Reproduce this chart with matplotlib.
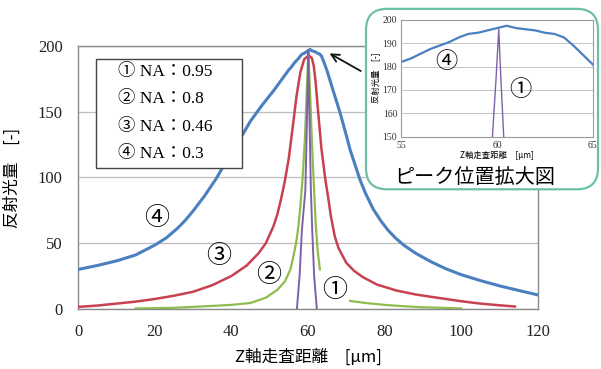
import matplotlib
matplotlib.use("Agg")
import matplotlib.pyplot as plt
from matplotlib.patches import Rectangle, FancyBboxPatch

# ---------------- data ----------------
na_labels = ["① NA：0.95", "② NA：0.8", "③ NA：0.46", "④ NA：0.3"]

# ① NA 0.95 (purple)
x1 = [57.1, 57.8, 58.4, 59.3, 59.55, 59.76, 59.95, 60.09, 60.2, 60.35, 60.55, 60.75, 61.1, 61.6, 62.3]
y1 = [0, 25, 60, 90, 120, 150, 175, 196, 175, 150, 120, 90, 60, 25, 0]

# ② NA 0.8 (green) - main branch and separate right tail
x2 = [15, 25, 32, 40, 45, 49, 52, 54, 55.4, 56.2, 57, 57.5, 58, 58.6, 59.2, 59.6, 60.1,
      60.6, 61.0, 61.6, 62.0, 62.5, 63.1]
y2 = [0.3, 0.8, 1.8, 3, 4.5, 8.5, 14.5, 21, 30, 40, 52, 63, 78, 100, 130, 160, 195,
      160, 128, 90, 65, 45, 30]
x2t = [71, 75, 80, 85, 90, 95, 100]
y2t = [6, 4.5, 3, 2, 1.2, 0.8, 0.3]

# ③ NA 0.46 (red)
x3 = [0, 5, 10, 15, 20, 25, 30, 35, 40, 44, 47, 49, 51, 52, 53, 54, 55, 56, 57,
      58, 59, 60.2, 61, 61.5, 62, 62.7, 63.5, 64.5, 65.3, 66, 67, 68, 70, 72,
      74.4, 78, 83, 88, 92, 96, 100, 105, 110, 114]
y3 = [1.5, 2.5, 4, 5.5, 7.5, 10, 13, 18, 25, 33, 42, 50, 63, 72, 84, 98, 115,
      138, 162, 180, 190, 193, 191, 185, 172, 148, 122, 99, 84, 70, 55, 46, 35,
      29, 24, 18.5, 14, 11, 9.2, 7.5, 5.8, 4, 2.7, 1.8]

# ④ NA 0.3 (blue)
x4 = [0, 5, 10, 15, 20, 23, 26, 28, 30, 33, 36, 39, 42, 45, 48, 51, 54, 55, 55.5, 56,
      56.5, 57, 57.5, 58, 58.5, 59, 59.5, 60, 60.5, 61, 61.5, 62, 62.5, 63,
      63.5, 64, 64.5, 65, 67, 68.4, 70, 71, 73.6, 75, 77, 79, 81, 83, 85,
      88, 92, 96, 100, 105, 110, 115, 120]
y4 = [30, 33, 36.5, 41, 48.5, 54, 61.5, 67.5, 74.5, 86, 99, 114, 128, 143, 155,
      166, 178, 182, 183.5, 185.5, 187.5, 189, 190.5, 192.5, 194, 194.5, 195.5,
      196.5, 197.5, 196.5, 196, 195.5, 194.5, 194, 192.5, 189, 185, 181, 162,
      149, 132, 121, 98, 88, 76, 67, 59.5, 53.5, 48.5, 42.5, 36, 30.5, 26, 21.5,
      17.5, 14, 10.6]

xticks = [0, 20, 40, 60, 80, 100, 120]
yticks = [0, 50, 100, 150, 200]
inset_xticks = [55, 60, 65]
inset_yticks = [150, 160, 170, 180, 190, 200]

c1, c2, c3, c4 = "#7e62a8", "#8fbc4f", "#c8414f", "#4a80c0"

serif = ["Liberation Serif", "Noto Sans CJK JP"]
cjk = ["Noto Sans CJK JP", "DejaVu Sans"]

fig = plt.figure(figsize=(6.01, 3.69), dpi=100)
ax = fig.add_axes([0.130, 0.163, 0.765, 0.712])

ax.plot(x4, y4, color=c4, lw=2.2, zorder=3)
ax.plot(x3, y3, color=c3, lw=1.8, zorder=3)
ax.plot(x2, y2, color=c2, lw=1.6, zorder=3)
ax.plot(x2t, y2t, color=c2, lw=1.6, zorder=3)
ax.plot(x1, y1, color=c1, lw=1.4, zorder=4)

ax.set_xlim(0, 120)
ax.set_ylim(0, 200)
ax.set_xticks(xticks)
ax.set_yticks(yticks)
ax.tick_params(length=0, labelsize=12, colors="#222222")
ax.tick_params(axis="x", pad=11)
ax.tick_params(axis="y", pad=11)
for lab in ax.get_xticklabels() + ax.get_yticklabels():
    lab.set_family(serif)
ax.grid(axis="y", color="#bdbdbd", lw=0.9)
ax.set_axisbelow(True)
for s in ax.spines.values():
    s.set_color("#8a8a8a")
    s.set_linewidth(1.0)

ax.set_xlabel("Z軸走査距離　[μm]", family=cjk, fontsize=12, labelpad=6)
ax.set_ylabel("反射光量　[-]", family=cjk, fontsize=12, labelpad=12)

# legend box drawn as text rows
ax.add_patch(Rectangle((0.039, 0.537), 0.317, 0.414, transform=ax.transAxes,
                       facecolor="white", edgecolor="#444444", lw=1.0, zorder=5))
rows_y = [0.902, 0.797, 0.694, 0.591]
for lab, yy in zip(na_labels, rows_y):
    ax.text(0.087, yy, lab, transform=ax.transAxes, family=serif,
            fontsize=12.5, va="center", ha="left", zorder=6)

# circled markers on the curves
ax.text(20.6, 69, "④", family=cjk, fontsize=18, ha="center", va="center")
ax.text(36.6, 40, "③", family=cjk, fontsize=18, ha="center", va="center")
ax.text(49.6, 26, "②", family=cjk, fontsize=18, ha="center", va="center")
ax.text(67.0, 14.5, "①", family=cjk, fontsize=18, ha="center", va="center")

# inset frame
frame = FancyBboxPatch((0.609, 0.487), 0.386, 0.489, transform=fig.transFigure,
                       boxstyle="round,pad=0,rounding_size=0.035",
                       facecolor="white", edgecolor="#6cc0aa", lw=1.6,
                       zorder=10, mutation_aspect=601 / 369)
fig.patches.append(frame)

iax = fig.add_axes([0.668, 0.630, 0.318, 0.316], zorder=11)
iax.plot(x4, y4, color=c4, lw=1.6)
iax.plot(x1, y1, color=c1, lw=1.0)
iax.set_xlim(55, 65)
iax.set_ylim(150, 200)
iax.set_xticks(inset_xticks)
iax.set_yticks(inset_yticks)
iax.tick_params(length=0, labelsize=7, colors="#333333", pad=3)
for lab in iax.get_xticklabels() + iax.get_yticklabels():
    lab.set_family(serif)
iax.grid(axis="y", color="#c4c4c4", lw=0.7)
iax.set_axisbelow(True)
for s in iax.spines.values():
    s.set_color("#9a9a9a")
    s.set_linewidth(0.8)
iax.set_xlabel("Z軸走査距離　[μm]", family=cjk, fontsize=6, labelpad=1)
iax.set_ylabel("反射光量　[-]", family=cjk, fontsize=6, labelpad=2)
iax.text(57.35, 182, "④", family=cjk, fontsize=16, ha="center", va="center")
iax.text(61.2, 170, "①", family=cjk, fontsize=16, ha="center", va="center")

fig.text(0.790, 0.520, "ピーク位置拡大図", family=cjk, fontsize=14.5,
         ha="center", va="center", zorder=12)

# arrow from inset to peak
ax.annotate("", xy=(65.0, 195.5), xytext=(74.4, 180),
            xycoords="data", textcoords="data",
            arrowprops=dict(arrowstyle="->", color="#111111", lw=1.3,
                            mutation_scale=14),
            zorder=12, annotation_clip=False)

fig.savefig("out.png", dpi=100)
